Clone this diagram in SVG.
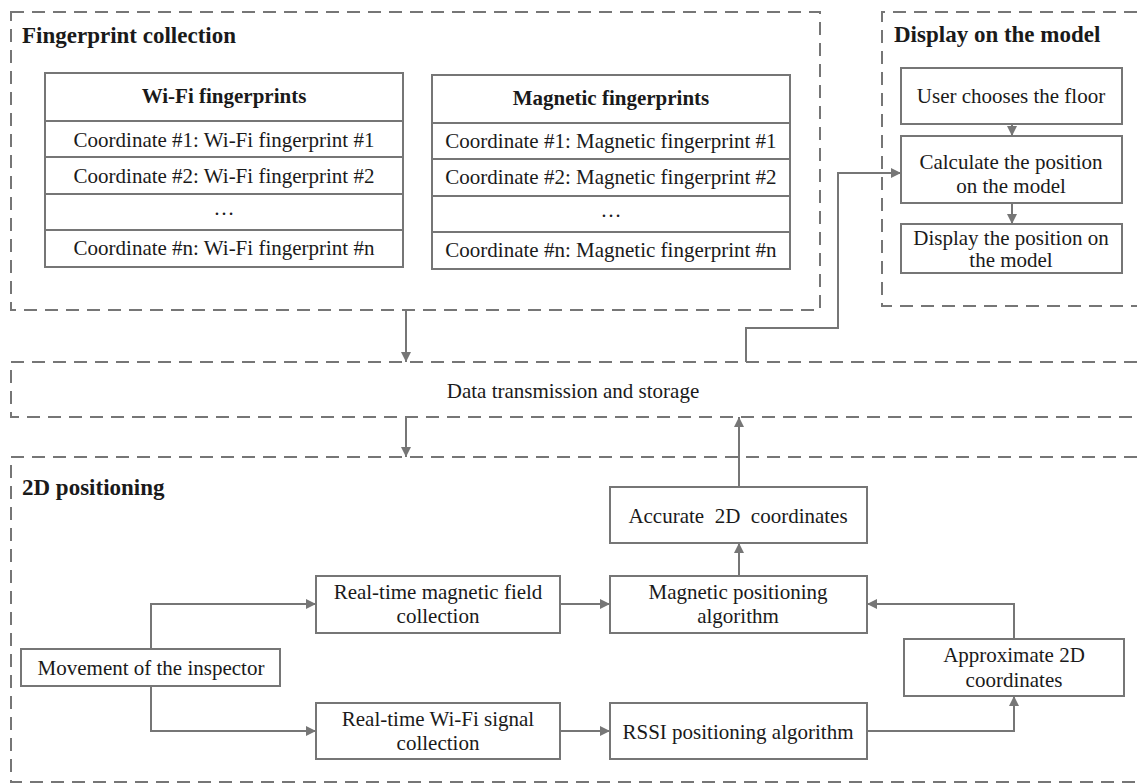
<svg xmlns="http://www.w3.org/2000/svg" width="1137" height="784" viewBox="0 0 1137 784">
<defs>
<style>
.dash{fill:none;stroke:#767676;stroke-width:2;stroke-dasharray:13 8}
.box{fill:#fff;stroke:#767676;stroke-width:2}
.ln{fill:none;stroke:#767676;stroke-width:2}
.t{font-family:"Liberation Serif","Times New Roman",serif;font-size:21px;fill:#1a1a1a;text-anchor:middle}
.b{font-family:"Liberation Serif","Times New Roman",serif;font-size:21px;font-weight:bold;fill:#1a1a1a;text-anchor:middle}
.h{font-family:"Liberation Serif","Times New Roman",serif;font-size:23px;font-weight:bold;fill:#1a1a1a}
</style>
<marker id="ah" viewBox="0 0 10 10" refX="10" refY="5" markerWidth="11" markerHeight="10" markerUnits="userSpaceOnUse" orient="auto">
<path d="M0,0 L10,5 L0,10 z" fill="#767676"/>
</marker>
</defs>
<rect width="1137" height="784" fill="#fff"/>

<g id="fingerprint-collection">
<rect class="dash" x="11" y="12" width="809" height="298"/>
<text class="h" x="22" y="43">Fingerprint collection</text>
</g>
<g id="wifi-table">
<rect class="box" x="45" y="73" width="358" height="194"/>
<line class="ln" x1="45" y1="121" x2="403" y2="121"/>
<line class="ln" x1="45" y1="157" x2="403" y2="157"/>
<line class="ln" x1="45" y1="194" x2="403" y2="194"/>
<line class="ln" x1="45" y1="230" x2="403" y2="230"/>
<text class="b" x="224" y="103">Wi-Fi fingerprints</text>
<text class="t" x="224" y="147">Coordinate #1: Wi-Fi fingerprint #1</text>
<text class="t" x="224" y="183">Coordinate #2: Wi-Fi fingerprint #2</text>
<text class="t" x="224" y="215">…</text>
<text class="t" x="224" y="255">Coordinate #n: Wi-Fi fingerprint #n</text>
</g>
<g id="magnetic-table">
<rect class="box" x="432" y="75" width="358" height="194"/>
<line class="ln" x1="432" y1="123" x2="790" y2="123"/>
<line class="ln" x1="432" y1="159" x2="790" y2="159"/>
<line class="ln" x1="432" y1="196" x2="790" y2="196"/>
<line class="ln" x1="432" y1="232" x2="790" y2="232"/>
<text class="b" x="611" y="105">Magnetic fingerprints</text>
<text class="t" x="611" y="148">Coordinate #1: Magnetic fingerprint #1</text>
<text class="t" x="611" y="184">Coordinate #2: Magnetic fingerprint #2</text>
<text class="t" x="611" y="217">…</text>
<text class="t" x="611" y="257">Coordinate #n: Magnetic fingerprint #n</text>
</g>

<g id="display-on-model">
<path class="dash" d="M1137,12 H882 V306 H1137"/>
<text class="h" x="894" y="42">Display on the model</text>
</g>
<g id="user-chooses">
<rect class="box" x="901" y="68" width="221" height="56"/>
<text class="t" x="1011" y="103">User chooses the floor</text>
</g>
<g id="calculate-position">
<rect class="box" x="901" y="136" width="221" height="67"/>
<text class="t" x="1011" y="169">Calculate the position</text>
<text class="t" x="1011" y="193">on the model</text>
</g>
<g id="display-position">
<rect class="box" x="901" y="224" width="221" height="49"/>
<text class="t" x="1011" y="245">Display the position on</text>
<text class="t" x="1011" y="267">the model</text>
</g>

<g id="data-transmission">
<path class="dash" d="M1137,362 H11 V417 H1137"/>
<text class="t" x="573" y="398">Data transmission and storage</text>
</g>

<g id="positioning-2d">
<path class="dash" d="M1137,457 H11 V782 H1137"/>
<text class="h" x="22" y="495">2D positioning</text>
</g>
<g id="accurate">
<rect class="box" x="610" y="487" width="257" height="56"/>
<text class="t" x="738" y="523" xml:space="preserve">Accurate  2D  coordinates</text>
</g>
<g id="magnetic-algorithm">
<rect class="box" x="610" y="576" width="257" height="57"/>
<text class="t" x="738" y="599">Magnetic positioning</text>
<text class="t" x="738" y="623">algorithm</text>
</g>
<g id="rssi-algorithm">
<rect class="box" x="610" y="703" width="257" height="56"/>
<text class="t" x="738" y="739">RSSI positioning algorithm</text>
</g>
<g id="approximate">
<rect class="box" x="904" y="639" width="220" height="57"/>
<text class="t" x="1014" y="662">Approximate 2D</text>
<text class="t" x="1014" y="687">coordinates</text>
</g>
<g id="realtime-magnetic">
<rect class="box" x="316" y="576" width="244" height="57"/>
<text class="t" x="438" y="599">Real-time magnetic field</text>
<text class="t" x="438" y="623">collection</text>
</g>
<g id="realtime-wifi">
<rect class="box" x="316" y="703" width="244" height="56"/>
<text class="t" x="438" y="726">Real-time Wi-Fi signal</text>
<text class="t" x="438" y="750">collection</text>
</g>
<g id="movement">
<rect class="box" x="21" y="649" width="259" height="37"/>
<text class="t" x="151" y="675">Movement of the inspector</text>
</g>

<g id="connectors">
<path class="ln" d="M1012,124 V136" marker-end="url(#ah)"/>
<path class="ln" d="M1012,203 V224" marker-end="url(#ah)"/>
<path class="ln" d="M406,310 V362" marker-end="url(#ah)"/>
<path class="ln" d="M406,417 V457" marker-end="url(#ah)"/>
<path class="ln" d="M746,362 V328 H838 V173 H901" marker-end="url(#ah)"/>
<path class="ln" d="M739,487 V417" marker-end="url(#ah)"/>
<path class="ln" d="M739,576 V543" marker-end="url(#ah)"/>
<path class="ln" d="M151,649 V604 H316" marker-end="url(#ah)"/>
<path class="ln" d="M151,686 V731 H316" marker-end="url(#ah)"/>
<path class="ln" d="M560,604 H610" marker-end="url(#ah)"/>
<path class="ln" d="M560,731 H610" marker-end="url(#ah)"/>
<path class="ln" d="M867,731 H1014 V696" marker-end="url(#ah)"/>
<path class="ln" d="M1014,639 V604 H867" marker-end="url(#ah)"/>
</g>
</svg>
